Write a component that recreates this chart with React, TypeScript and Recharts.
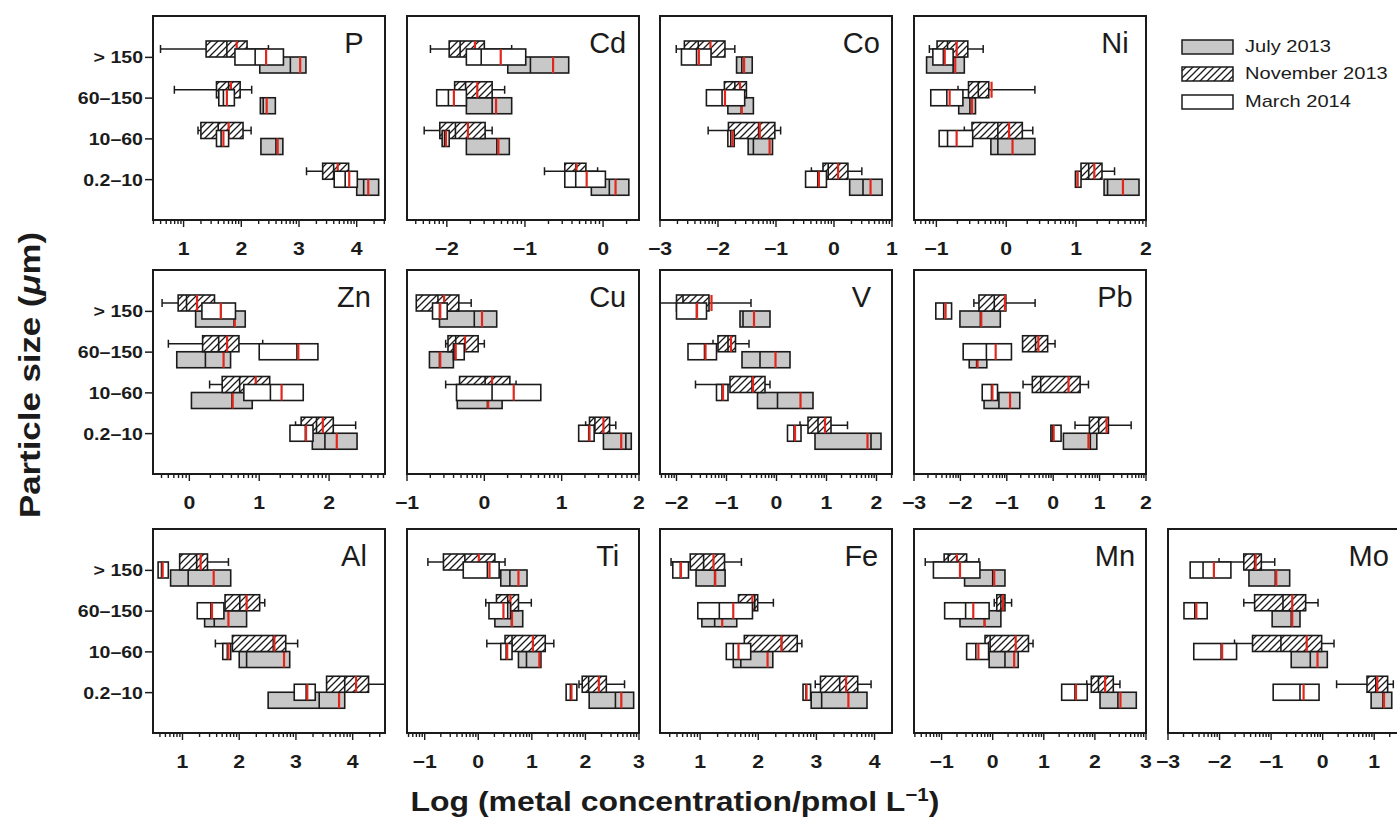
import React from "react";
import { BarChart, Bar, XAxis, YAxis } from "recharts";

// one box = [lower whisker, Q1, median, Q3, upper whisker, mean]
type Box = [number | null, number, number, number, number | null, number];
type SeasonKey = "jul" | "nov" | "mar";

const SIZES = ["> 150", "60–150", "10–60", "0.2–10"];
const SEASONS = ["July 2013", "November 2013", "March 2014"];

const P_JUL: Box[] = [[null, 2.32, 2.85, 3.12, null, 3.02], [null, 2.33, 2.38, 2.59, null, 2.44], [null, 2.34, 2.6, 2.72, null, 2.63], [null, 4.0, 4.12, 4.38, null, 4.2]];
const P_NOV: Box[] = [[0.6, 1.39, 1.75, 2.1, 2.47, 1.92], [0.84, 1.57, 1.78, 1.98, 2.18, 1.82], [1.25, 1.3, 1.6, 2.03, 2.17, 1.78], [3.13, 3.41, 3.6, 3.86, null, 3.67]];
const P_MAR: Box[] = [[null, 1.89, 2.24, 2.73, null, 2.43], [null, 1.61, 1.69, 1.88, null, 1.75], [null, 1.57, 1.65, 1.78, null, 1.69], [null, 3.61, 3.8, 4.01, null, 3.87]];

const CD_JUL: Box[] = [[null, -1.22, -0.93, -0.44, null, -0.64], [null, -1.75, -1.42, -1.17, null, -1.37], [null, -1.75, -1.36, -1.2, null, -1.34], [null, -0.15, 0.08, 0.33, null, 0.16]];
const CD_NOV: Box[] = [[-2.21, -1.97, -1.83, -1.52, -1.17, -1.64], [null, -1.9, -1.76, -1.42, -1.26, -1.61], [-2.29, -2.09, -1.89, -1.51, -1.42, -1.73], [-0.75, -0.49, -0.35, -0.22, -0.07, -0.34]];
const CD_MAR: Box[] = [[null, -1.75, -1.56, -0.99, null, -1.31], [null, -2.13, -1.98, -1.75, null, -1.91], [null, -2.06, -2.03, -1.97, null, -2.01], [null, -0.49, -0.35, 0.03, null, -0.21]];

const CO_JUL: Box[] = [[null, -1.68, -1.59, -1.41, null, -1.55], [null, -1.83, -1.6, -1.39, null, -1.59], [null, -1.48, -1.39, -1.06, null, -1.11], [null, 0.27, 0.5, 0.83, null, 0.63]];
const CO_NOV: Box[] = [[-2.72, -2.58, -2.34, -1.88, -1.71, -2.13], [null, -1.89, -1.71, -1.51, null, -1.62], [-2.17, -1.82, -1.3, -1.02, -0.92, -1.28], [-0.39, -0.19, -0.1, 0.24, 0.48, 0.07]];
const CO_MAR: Box[] = [[null, -2.63, -2.37, -2.12, null, -2.33], [null, -2.2, -1.93, -1.54, null, -1.88], [null, -1.83, -1.78, -1.72, null, -1.75], [null, -0.49, -0.28, -0.13, null, -0.26]];

const NI_JUL: Box[] = [[null, -1.14, -0.76, -0.6, null, -0.73], [null, -0.68, -0.52, -0.44, null, -0.49], [null, -0.22, -0.12, 0.41, null, 0.09], [null, 1.4, 1.45, 1.9, null, 1.67]];
const NI_NOV: Box[] = [[-1.1, -0.99, -0.84, -0.55, -0.33, -0.71], [-0.69, -0.54, -0.4, -0.25, 0.41, -0.21], [-0.6, -0.49, -0.12, 0.23, 0.38, 0.04], [null, 1.07, 1.18, 1.37, 1.55, 1.26]];
const NI_MAR: Box[] = [[null, -1.05, -0.9, -0.76, null, -0.88], [null, -1.08, -0.85, -0.62, null, -0.81], [null, -0.96, -0.84, -0.48, null, -0.71], [null, 0.99, 1.02, 1.07, null, 1.02]];

const ZN_JUL: Box[] = [[null, 0.09, 0.64, 0.8, null, 0.65], [null, -0.18, 0.23, 0.59, null, 0.49], [null, 0.03, 0.61, 0.9, null, 0.62], [null, 1.76, 1.94, 2.4, null, 2.11]];
const ZN_NOV: Box[] = [[-0.39, -0.16, -0.04, 0.36, null, 0.11], [-0.3, 0.19, 0.42, 0.71, 1.05, 0.54], [0.29, 0.47, 0.72, 1.15, null, 0.95], [1.52, 1.6, 1.82, 2.06, 2.38, 1.91]];
const ZN_MAR: Box[] = [[null, 0.18, 0.45, 0.66, null, 0.45], [null, 1.0, 1.54, 1.84, null, 1.56], [null, 0.78, 1.16, 1.63, null, 1.32], [null, 1.44, 1.66, 1.77, null, 1.67]];

const CU_JUL: Box[] = [[null, -0.58, -0.13, 0.16, null, -0.03], [null, -0.71, -0.58, -0.4, null, -0.57], [null, -0.35, 0.04, 0.23, null, 0.05], [null, 1.54, 1.83, 1.9, null, 1.77]];
const CU_NOV: Box[] = [[null, -0.88, -0.6, -0.33, -0.17, -0.52], [-0.5, -0.47, -0.37, -0.08, 0.0, -0.25], [-0.5, -0.32, 0.01, 0.33, 0.41, 0.1], [1.31, 1.36, 1.43, 1.62, 1.7, 1.54]];
const CU_MAR: Box[] = [[null, -0.67, -0.58, -0.48, null, -0.57], [null, -0.4, -0.38, -0.26, null, -0.37], [null, -0.36, 0.1, 0.73, null, 0.38], [null, 1.22, 1.35, 1.42, null, 1.36]];

const V_JUL: Box[] = [[null, -0.73, -0.67, -0.13, null, -0.45], [null, -0.69, -0.33, 0.27, null, -0.02], [null, -0.38, 0.02, 0.73, null, 0.48], [null, 0.77, 1.89, 2.09, null, 1.82]];
const V_NOV: Box[] = [[-2.4, -2.0, -1.87, -1.35, -0.51, -1.3], [-1.27, -1.17, -0.97, -0.82, -0.55, -0.91], [-1.62, -0.93, -0.49, -0.23, -0.13, -0.47], [0.47, 0.63, 0.83, 1.09, 1.42, 0.97]];
const V_MAR: Box[] = [[null, -2.0, -1.6, -1.4, null, -1.59], [null, -1.77, -1.44, -1.2, null, -1.42], [null, -1.2, -1.09, -0.97, null, -1.07], [null, 0.22, 0.35, 0.49, null, 0.37]];

const PB_JUL: Box[] = [[null, -2.01, -1.57, -1.14, null, -1.55], [null, -1.81, -1.65, -1.43, null, -1.63], [null, -1.49, -1.17, -0.72, null, -0.93], [null, 0.22, 0.8, 0.94, null, 0.76]];
const PB_NOV: Box[] = [[-1.71, -1.6, -1.27, -1.02, -0.39, -1.04], [null, -0.66, -0.38, -0.12, 0.04, -0.32], [-0.65, -0.45, -0.27, 0.58, 0.76, 0.33], [0.47, 0.78, 0.98, 1.19, 1.68, 1.15]];
const PB_MAR: Box[] = [[null, -2.53, -2.36, -2.19, null, -2.32], [null, -1.94, -1.44, -0.9, null, -1.24], [null, -1.53, -1.33, -1.2, null, -1.31], [null, -0.05, -0.02, 0.17, null, 0.01]];

const AL_JUL: Box[] = [[null, 0.79, 1.1, 1.85, null, 1.55], [null, 1.39, 1.56, 2.13, null, 1.81], [null, 2.0, 2.13, 2.89, null, 2.79], [null, 2.51, 3.41, 3.86, null, 3.76]];
const AL_NOV: Box[] = [[null, 0.95, 1.25, 1.44, 1.81, 1.32], [null, 1.75, 2.01, 2.36, 2.45, 2.13], [1.58, 1.88, 2.6, 2.82, 3.03, 2.62], [null, 3.54, 3.86, 4.28, 4.7, 4.06]];
const AL_MAR: Box[] = [[null, 0.57, 0.63, 0.75, null, 0.65], [null, 1.26, 1.5, 1.73, null, 1.52], [null, 1.71, 1.79, 1.85, null, 1.81], [null, 2.97, 3.18, 3.34, null, 3.2]];

const TI_JUL: Box[] = [[null, 0.42, 0.59, 0.91, null, 0.75], [null, 0.31, 0.62, 0.83, null, 0.63], [null, 0.75, 0.9, 1.17, null, 1.14], [null, 2.07, 2.56, 2.9, null, 2.67]];
const TI_NOV: Box[] = [[-0.94, -0.65, -0.25, 0.31, 0.5, 0.01], [0.14, 0.34, 0.55, 0.75, 0.99, 0.6], [0.16, 0.5, 0.63, 1.25, 1.41, 1.02], [1.88, 1.94, 2.06, 2.39, 2.73, 2.25]];
const TI_MAR: Box[] = [[null, -0.28, 0.17, 0.39, null, 0.21], [null, 0.2, 0.55, 0.6, null, 0.47], [null, 0.42, 0.52, 0.63, null, 0.54], [null, 1.64, 1.72, 1.84, null, 1.74]];

const FE_JUL: Box[] = [[null, 0.93, 1.25, 1.43, null, 1.26], [null, 1.03, 1.25, 1.63, null, 1.38], [null, 1.57, 1.7, 2.25, null, 2.16], [null, 2.91, 3.09, 3.87, null, 3.55]];
const FE_NOV: Box[] = [[0.5, 0.83, 1.06, 1.42, 1.71, 1.23], [null, 1.66, 1.94, 1.99, 2.26, 1.9], [null, 1.76, 2.4, 2.67, 2.75, 2.4], [2.98, 3.07, 3.4, 3.71, 3.94, 3.51]];
const FE_MAR: Box[] = [[null, 0.53, 0.66, 0.8, null, 0.67], [null, 0.96, 1.33, 1.9, null, 1.57], [null, 1.45, 1.57, 1.87, null, 1.66], [null, 2.77, 2.82, 2.9, null, 2.83]];

const MN_JUL: Box[] = [[null, -0.55, 0.0, 0.24, null, 0.03], [null, -0.64, -0.16, 0.16, null, -0.16], [null, -0.07, 0.24, 0.5, null, 0.42], [null, 2.1, 2.45, 2.81, null, 2.5]];
const MN_NOV: Box[] = [[-1.32, -0.95, -0.87, -0.51, -0.27, -0.7], [0.03, 0.08, 0.16, 0.24, 0.37, 0.2], [null, -0.15, -0.05, 0.7, 0.79, 0.45], [1.84, 1.93, 2.07, 2.36, 2.49, 2.2]];
const MN_MAR: Box[] = [[null, -1.16, -0.64, -0.25, null, -0.64], [null, -0.94, -0.53, -0.07, null, -0.38], [null, -0.51, -0.33, -0.08, null, -0.28], [null, 1.35, 1.61, 1.85, null, 1.63]];

const MO_JUL: Box[] = [[null, -1.43, -0.92, -0.64, null, -0.9], [null, -0.98, -0.61, -0.44, null, -0.59], [null, -0.61, -0.24, 0.09, null, -0.1], [null, 0.94, 1.17, 1.34, null, 1.19]];
const MO_NOV: Box[] = [[-2.01, -1.53, -1.32, -1.19, -0.93, -1.3], [-1.53, -1.32, -0.77, -0.33, -0.09, -0.59], [-1.71, -1.36, -0.81, -0.02, 0.22, -0.31], [0.27, 0.86, 1.03, 1.26, 1.37, 1.06]];
const MO_MAR: Box[] = [[null, -2.57, -2.32, -1.78, null, -2.11], [null, -2.69, -2.48, -2.24, null, -2.45], [null, -2.5, -1.97, -1.67, null, -1.95], [null, -0.96, -0.44, -0.07, null, -0.37]];

type Panel = { name: string; domain: [number, number]; major: number[]; jul: Box[]; nov: Box[]; mar: Box[] };

const PANEL_ROWS: Panel[][] = [
  [
    { name: "P", domain: [0.47, 4.49], major: [1, 2, 3, 4], jul: P_JUL, nov: P_NOV, mar: P_MAR },
    { name: "Cd", domain: [-2.51, 0.46], major: [-2, -1, 0], jul: CD_JUL, nov: CD_NOV, mar: CD_MAR },
    { name: "Co", domain: [-3, 1], major: [-3, -2, -1, 0, 1], jul: CO_JUL, nov: CO_NOV, mar: CO_MAR },
    { name: "Ni", domain: [-1.32, 2], major: [-1, 0, 1, 2], jul: NI_JUL, nov: NI_NOV, mar: NI_MAR },
  ],
  [
    { name: "Zn", domain: [-0.52, 2.8], major: [0, 1, 2], jul: ZN_JUL, nov: ZN_NOV, mar: ZN_MAR },
    { name: "Cu", domain: [-1, 2], major: [-1, 0, 1, 2], jul: CU_JUL, nov: CU_NOV, mar: CU_MAR },
    { name: "V", domain: [-2.33, 2.31], major: [-2, -1, 0, 1, 2], jul: V_JUL, nov: V_NOV, mar: V_MAR },
    { name: "Pb", domain: [-3, 2], major: [-3, -2, -1, 0, 1, 2], jul: PB_JUL, nov: PB_NOV, mar: PB_MAR },
  ],
  [
    { name: "Al", domain: [0.48, 4.57], major: [1, 2, 3, 4], jul: AL_JUL, nov: AL_NOV, mar: AL_MAR },
    { name: "Ti", domain: [-1.33, 3], major: [-1, 0, 1, 2, 3], jul: TI_JUL, nov: TI_NOV, mar: TI_MAR },
    { name: "Fe", domain: [0.31, 4.3], major: [1, 2, 3, 4], jul: FE_JUL, nov: FE_NOV, mar: FE_MAR },
    { name: "Mn", domain: [-1.54, 3], major: [-1, 0, 1, 2, 3], jul: MN_JUL, nov: MN_NOV, mar: MN_MAR },
    { name: "Mo", domain: [-3, 1.5], major: [-3, -2, -1, 0, 1], jul: MO_JUL, nov: MO_NOV, mar: MO_MAR },
  ],
];

const INK = "#1b1b1b";
const RED = "#e2261c";
const FILLS: Record<SeasonKey, string> = { jul: "#c8c8c8", nov: "url(#hatch)", mar: "#ffffff" };

const FRAME_W = 232;
const FRAME_H = 204;
const COL_X = [153, 406.7, 660.3, 914, 1167.7];
const ROW_Y = [16, 270, 529];
const LEFT = 110;
const TOP = 10;
const RIGHT = 20;
const BOTTOM = 45;

const FONT = "'Liberation Sans', Arial, Helvetica, sans-serif";

// log-scale minor ticks between the integer decades
function minorTicks([a, b]: [number, number]) {
  const out: number[] = [];
  for (let n = Math.floor(a); n < b; n++) {
    for (let k = 2; k <= 9; k++) {
      const v = n + Math.log10(k);
      if (v > a && v < b) out.push(v);
    }
  }
  return out;
}

const fmt = (v: number) => (v < 0 ? "\u2212" + Math.abs(v) : String(v));

function XTick(props: any) {
  const { x, y, payload } = props;
  const v = payload.value;
  const major = Number.isInteger(v);
  return (
    <g>
      <line x1={x} x2={x} y1={y} y2={y + (major ? 7 : 4)} stroke={INK} strokeWidth={1.4} />
      {major && (
        <text
          x={x}
          y={y + 35}
          textAnchor="middle"
          fontSize={18}
          fontWeight="bold"
          fill={INK}
          transform={`translate(${x} 0) scale(1.18 1) translate(${-x} 0)`}
        >
          {fmt(v)}
        </text>
      )}
    </g>
  );
}

function SizeTick(props: any) {
  const { x, y, payload } = props;
  return (
    <text
      x={x}
      y={y + 6}
      textAnchor="end"
      fontSize={17}
      fontWeight="bold"
      fill={INK}
      transform={`translate(${x} 0) scale(1.15 1) translate(${-x} 0)`}
    >
      {payload.value}
    </text>
  );
}

// box drawn on top of the bar the library placed from Q1 to Q3
function boxShape(key: SeasonKey) {
  return (props: any) => {
    const { x, y, width, height, payload } = props;
    const [lo, q1, med, q3, hi, mean] = payload[key] as Box;
    const k = width / (q3 - q1);
    const px = (v: number) => x + (v - q1) * k;
    const cy = y + height / 2;
    return (
      <g>
        {lo != null && (
          <g stroke={INK} strokeWidth={1.5}>
            <line x1={px(lo)} x2={x} y1={cy} y2={cy} />
            <line x1={px(lo)} x2={px(lo)} y1={cy - 4} y2={cy + 4} />
          </g>
        )}
        {hi != null && (
          <g stroke={INK} strokeWidth={1.5}>
            <line x1={x + width} x2={px(hi)} y1={cy} y2={cy} />
            <line x1={px(hi)} x2={px(hi)} y1={cy - 4} y2={cy + 4} />
          </g>
        )}
        <rect x={x} y={y} width={width} height={height} fill={FILLS[key]} stroke={INK} strokeWidth={1.6} />
        <line x1={px(med)} x2={px(med)} y1={y} y2={y + height} stroke={INK} strokeWidth={1.6} />
        <line x1={px(mean)} x2={px(mean)} y1={y} y2={y + height} stroke={RED} strokeWidth={2.2} />
      </g>
    );
  };
}

const SHAPES = { jul: boxShape("jul"), nov: boxShape("nov"), mar: boxShape("mar") };

function PanelChart({ panel, row, col, last }: { panel: Panel; row: number; col: number; last: boolean }) {
  const fx = COL_X[col];
  const fy = ROW_Y[row];
  const data = SIZES.map((size, i) => ({ size, jul: panel.jul[i], nov: panel.nov[i], mar: panel.mar[i] }));
  const ticks = [...panel.major, ...minorTicks(panel.domain)].sort((a, b) => a - b);
  const tickLine = { stroke: INK, strokeWidth: 1.5 };
  const labelled = col === 0;
  return (
    <>
      <div style={{ position: "absolute", left: fx - LEFT, top: fy - TOP }}>
        <BarChart
          width={LEFT + FRAME_W + RIGHT}
          height={TOP + FRAME_H + BOTTOM}
          data={data}
          layout="vertical"
          margin={{ top: TOP, right: 0, bottom: 0, left: labelled ? 0 : LEFT }}
        >
          <XAxis
            type="number"
            domain={panel.domain}
            allowDataOverflow
            ticks={ticks}
            interval={0}
            tickSize={0}
            tickMargin={0}
            axisLine={false}
            tickLine={false}
            height={BOTTOM}
            tick={XTick}
          />
          <YAxis
            yAxisId="mar"
            type="category"
            dataKey="size"
            padding={{ top: 21, bottom: 20 }}
            hide={!labelled}
            width={labelled ? LEFT : 0}
            axisLine={false}
            tickSize={8}
            tickMargin={2}
            tickLine={tickLine}
            tick={SizeTick}
            interval={0}
          />
          <YAxis yAxisId="nov" type="category" dataKey="size" padding={{ top: 13, bottom: 28 }} width={0} hide />
          <YAxis yAxisId="jul" type="category" dataKey="size" padding={{ top: 29, bottom: 12 }} width={0} hide />
          <YAxis
            yAxisId="edge"
            orientation="right"
            type="category"
            dataKey="size"
            padding={{ top: 21, bottom: 20 }}
            width={RIGHT}
            axisLine={false}
            tick={false}
            tickSize={last ? 8 : 14}
            tickLine={tickLine}
            interval={0}
          />
          <Bar yAxisId="jul" dataKey={(d: any) => [d.jul[1], d.jul[3]]} barSize={16} shape={SHAPES.jul} isAnimationActive={false} />
          <Bar yAxisId="nov" dataKey={(d: any) => [d.nov[1], d.nov[3]]} barSize={16} shape={SHAPES.nov} isAnimationActive={false} />
          <Bar yAxisId="mar" dataKey={(d: any) => [d.mar[1], d.mar[3]]} barSize={16} shape={SHAPES.mar} isAnimationActive={false} />
        </BarChart>
      </div>
      <div
        style={{
          position: "absolute",
          left: fx - 1,
          top: fy - 1,
          width: FRAME_W + 2,
          height: FRAME_H + 2,
          border: `2px solid ${INK}`,
          boxSizing: "border-box",
          pointerEvents: "none",
        }}
      />
      <div
        style={{
          position: "absolute",
          left: fx + 201 - 60,
          width: 120,
          top: fy + 12.5,
          fontSize: 29,
          lineHeight: "29px",
          textAlign: "center",
          color: INK,
        }}
      >
        {panel.name}
      </div>
    </>
  );
}

function Legend() {
  const fills = [FILLS.jul, FILLS.nov, FILLS.mar];
  return (
    <div style={{ position: "absolute", left: 1181, top: 33 }}>
      {SEASONS.map((s, i) => (
        <div key={s} style={{ display: "flex", alignItems: "center", height: 27.5 }}>
          <svg width={54} height={18} style={{ display: "block" }}>
            <rect x={1} y={2} width={51} height={14} fill={fills[i]} stroke={INK} strokeWidth={1.5} />
          </svg>
          <span
            style={{
              marginLeft: 10,
              fontSize: 17,
              color: INK,
              whiteSpace: "nowrap",
              display: "inline-block",
              transform: "scaleX(1.18)",
              transformOrigin: "left center",
            }}
          >
            {s}
          </span>
        </div>
      ))}
    </div>
  );
}

export default function App() {
  return (
    <div
      style={{
        position: "absolute",
        left: 0,
        top: 0,
        width: 1397,
        height: 826,
        overflow: "hidden",
        background: "#fff",
        fontFamily: FONT,
      }}
    >
      <svg width={0} height={0} style={{ position: "absolute" }}>
        <defs>
          <pattern id="hatch" patternUnits="userSpaceOnUse" width={7} height={7}>
            <rect width={7} height={7} fill="#fff" />
            <path d="M-1,1 l2,-2 M0,7 l7,-7 M6,8 l2,-2" stroke={INK} strokeWidth={1.3} />
          </pattern>
        </defs>
      </svg>
      {PANEL_ROWS.map((panels, r) =>
        panels.map((p, c) => <PanelChart key={p.name} panel={p} row={r} col={c} last={c === panels.length - 1} />)
      )}
      <Legend />
      <div style={{ position: "absolute", left: 30, top: 375, width: 0, height: 0 }}>
        <div
          style={{
            position: "absolute",
            left: 0,
            top: 0,
            whiteSpace: "nowrap",
            fontSize: 29,
            lineHeight: "29px",
            fontWeight: "bold",
            color: INK,
            transform: "translate(-50%, -50%) rotate(-90deg) scaleX(1.2)",
          }}
        >
          Particle size (<i>μ</i>m)
        </div>
      </div>
      <div style={{ position: "absolute", left: 675, top: 788, width: 0, height: 0 }}>
        <div
          style={{
            position: "absolute",
            left: 0,
            top: 0,
            whiteSpace: "nowrap",
            fontSize: 28,
            lineHeight: "28px",
            fontWeight: "bold",
            color: INK,
            transform: "translate(-50%, 0) scaleX(1.14)",
          }}
        >
          Log (metal concentration/pmol L<sup style={{ fontSize: 18, lineHeight: 0 }}>−1</sup>)
        </div>
      </div>
    </div>
  );
}
